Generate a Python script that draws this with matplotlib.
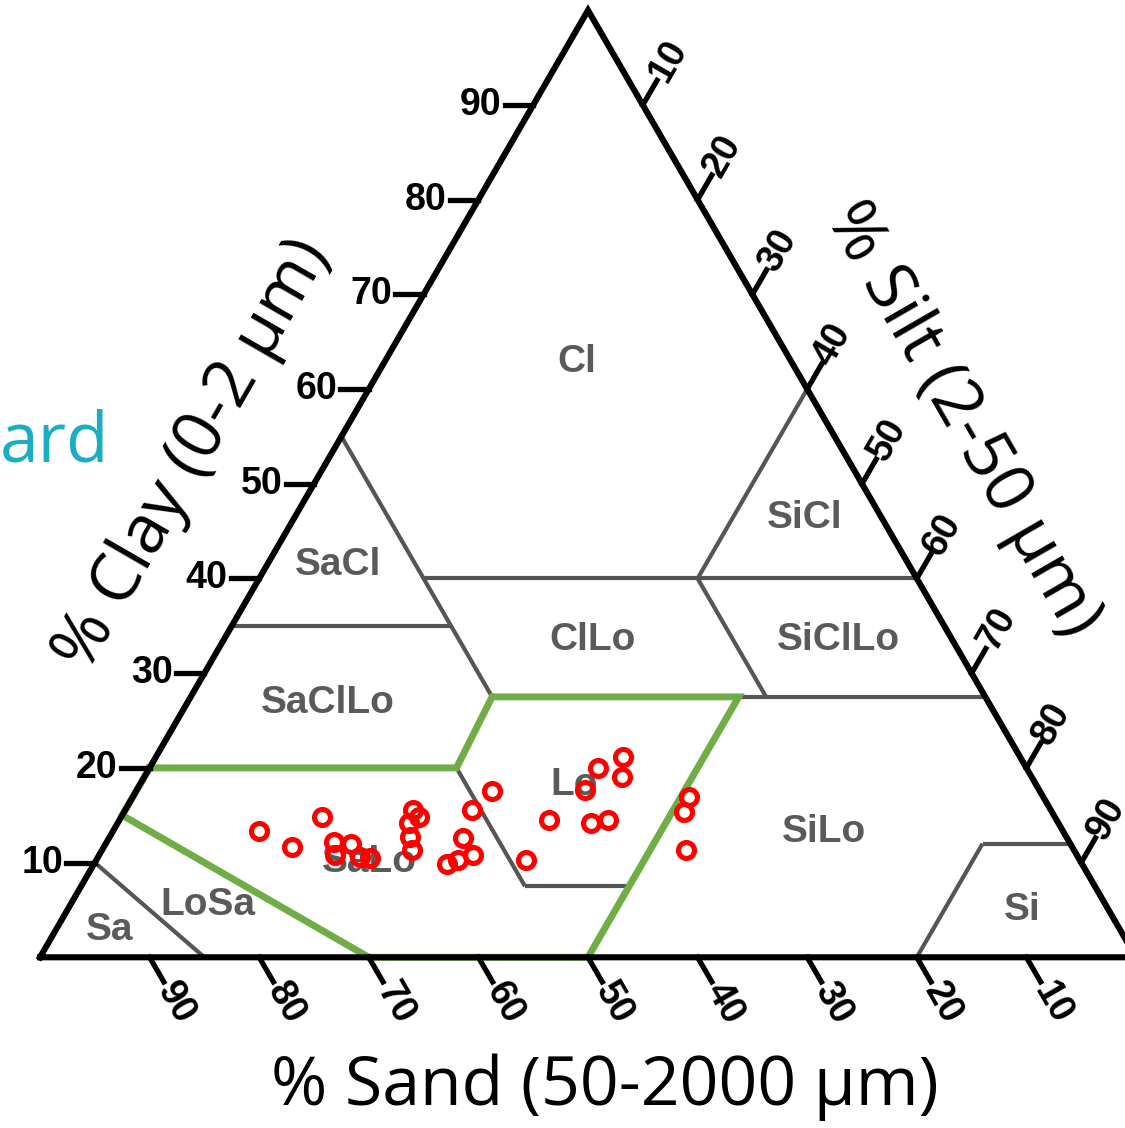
import numpy as np
import matplotlib
matplotlib.use("Agg")
import matplotlib.pyplot as plt

# ---------------- data (percent) ----------------
sample_sand = [73.4, 71.2, 66.9, 67.1, 65.6, 67.7, 65.5, 64.6, 58.2, 58.0,
               59.2, 59.9, 60.4, 57.9, 56.7, 55.1, 55.1, 52.8, 50.0, 50.5,
               46.3, 41.4, 39.1, 36.2, 37.4, 42.6, 40.9, 32.3, 33.6, 35.4]
sample_clay = [13.3, 11.6, 14.8, 12.2, 12.0, 10.8, 10.6, 10.5, 15.6, 14.8,
               14.2, 12.7, 11.3, 9.9, 10.3, 10.8, 12.6, 15.6, 17.6, 10.3,
               14.5, 17.7, 20.0, 21.2, 19.0, 14.2, 14.5, 16.9, 15.3, 11.3]

tick_values = [10, 20, 30, 40, 50, 60, 70, 80, 90]

# texture class boundaries as (sand, clay) polylines
boundary_lines = [
    [(45, 55), (45, 27.5)],
    [(65, 35), (45, 35)],
    [(45, 40), (0, 40)],
    [(0, 60), (20, 40)],
    [(20, 40), (20, 27.5)],
    [(45, 27.5), (0, 27.5)],
    [(52, 20), (52, 7.5)],
    [(52, 7.5), (42.5, 7.5)],
    [(20, 0), (8, 12)],
    [(8, 12), (0, 12)],
    [(85, 0), (90, 10)],
]
highlight_sand = [80, 52, 45, 22.5, 50, 70, 85, 80]
highlight_clay = [20, 20, 27.5, 27.5, 0, 0, 15, 20]

class_names = ["Cl", "SiCl", "SaCl", "ClLo", "SiClLo", "SaClLo",
               "Lo", "SiLo", "SaLo", "LoSa", "Sa", "Si"]
class_sand = [19.6, 7.0, 52.1, 32.8, 10.4, 60.3, 42.2, 21.9, 64.9, 81.9, 92.2, 7.9]
class_clay = [62.9, 46.4, 41.4, 33.5, 33.5, 26.9, 18.2, 13.2, 10.1, 5.5, 2.9, 5.0]

H = np.sqrt(3) / 2


def tern(sand, clay):
    sand = np.asarray(sand, float)
    clay = np.asarray(clay, float)
    return 100 - sand - clay / 2, clay * H


fig = plt.figure(figsize=(11.25, 11.28), dpi=100)
ax = fig.add_axes([0, 0, 1, 1])
ax.set_xlim(-3.650, 98.996)
ax.set_ylim(-15.611, 87.544)
ax.axis("off")

gray = "#555555"
# class boundaries
for seg in boundary_lines:
    s, c = zip(*seg)
    x, y = tern(s, c)
    ax.plot(x, y, color=gray, lw=3.0, solid_capstyle="butt", zorder=2)

# highlighted region
x, y = tern(highlight_sand, highlight_clay)
ax.plot(x, y, color="#70AD47", lw=5.0, solid_joinstyle="miter", zorder=3)

# triangle outline
tx, ty = tern([100, 0, 0, 100], [0, 0, 100, 0])
ax.plot(tx, ty, color="black", lw=4.4, solid_joinstyle="miter", zorder=4)

tick_len = 2.6
lab_kw = dict(fontsize=27, fontweight="bold", family="Liberation Sans", color="black")
for v in tick_values:
    # clay ticks on the left edge
    x0, y0 = tern(100 - v, v)
    ax.plot([x0, x0 - tick_len], [y0, y0], color="black", lw=3.8, zorder=4)
    ax.text(x0 - tick_len - 0.3, y0, str(v), ha="right", va="center", **lab_kw)
    # silt ticks on the right edge
    x0, y0 = tern(0, 100 - v)
    dx, dy = 0.5 * tick_len, H * tick_len
    ax.plot([x0, x0 + dx], [y0, y0 + dy], color="black", lw=3.8, zorder=4)
    ax.text(x0 + dx * 1.05, y0 + dy * 1.05, str(v), ha="left", va="center",
            rotation=60, rotation_mode="anchor", **lab_kw)
    # sand ticks on the bottom edge
    x0, y0 = tern(v, 0)
    ax.plot([x0, x0 + dx], [y0, y0 - dy], color="black", lw=3.8, zorder=4)
    ax.text(x0 + dx * 1.12, y0 - dy * 1.12, str(v), ha="left", va="center",
            rotation=-60, rotation_mode="anchor", **lab_kw)

# class labels
for name, s, c in zip(class_names, class_sand, class_clay):
    x, y = tern(s, c)
    ax.text(x, y, name, ha="center", va="center", fontsize=28, fontweight="bold",
            family="Liberation Sans", color="#5a5a5a", zorder=5)

# sample points
x, y = tern(sample_sand, sample_clay)
ax.plot(x, y, "o", ms=11.5, mfc="none", mec="#ff0000", mew=3.7, zorder=6)

# axis titles
title_kw = dict(fontsize=49, family="Open Sans", color="black", ha="center", va="center")
fig.text(193 / 1125, 1 - 455 / 1128, "% Clay (0-2 µm)", rotation=60, **title_kw)
fig.text(962 / 1125, 1 - 420 / 1128, "% Silt (2-50 µm)", rotation=-60, **title_kw)
fig.text(605 / 1125, 1 - 1087 / 1128, "% Sand (50-2000 µm)", **title_kw)
fig.text(0.0, 1 - 443 / 1128, "ard", fontsize=50, family="Open Sans", color="#1AADC4",
         ha="left", va="center")

fig.savefig("out.png", dpi=100)
